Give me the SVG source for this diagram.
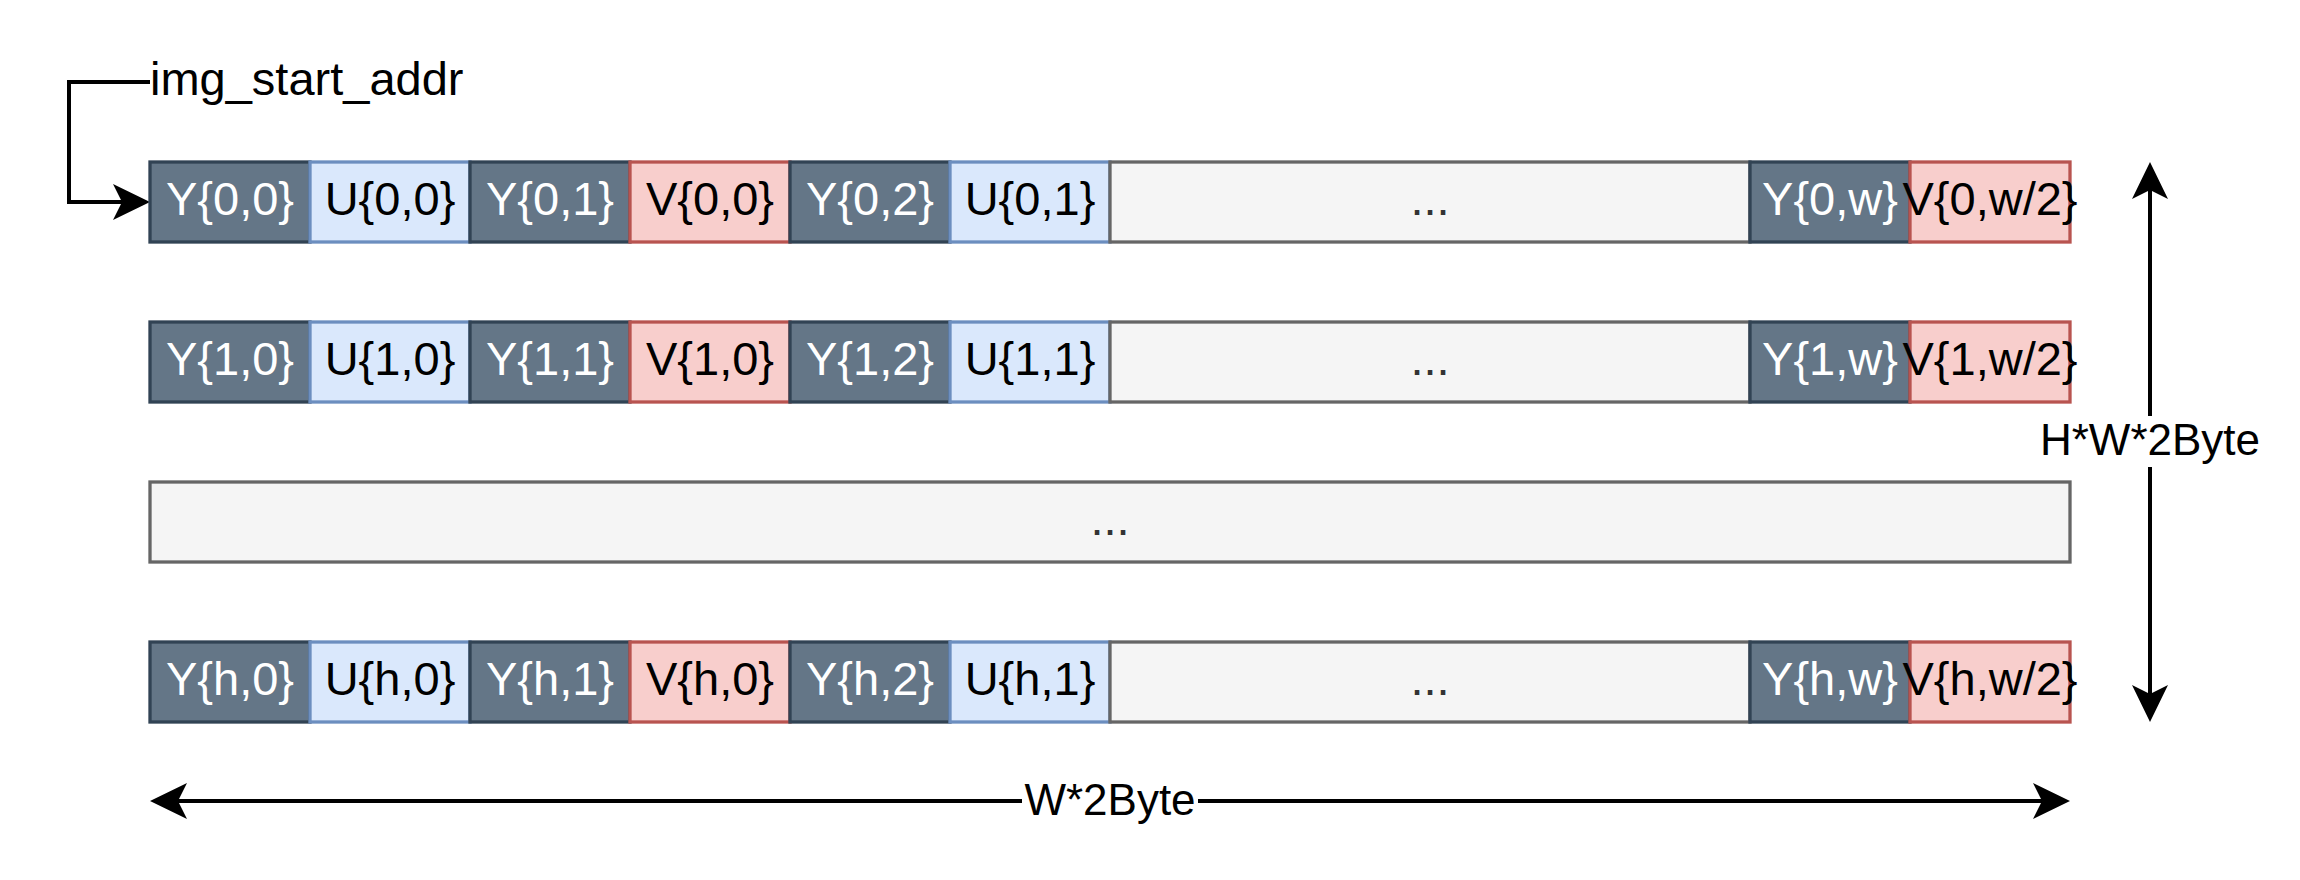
<svg xmlns="http://www.w3.org/2000/svg" width="2300" height="880" viewBox="0 0 2300 880">
<style>
text{font-family:"Liberation Sans",Arial,Helvetica,sans-serif;font-size:47px;text-anchor:middle}
.y rect{fill:#647687;stroke:#314354;stroke-width:3.3}
.y text{fill:#ffffff}
.u rect{fill:#dae8fc;stroke:#6c8ebf;stroke-width:3.3}
.u text{fill:#000000}
.v rect{fill:#f8cecc;stroke:#b85450;stroke-width:3.3}
.v text{fill:#000000}
.g rect{fill:#f5f5f5;stroke:#666666;stroke-width:3.3}
.g text{fill:#333333}
.edge{fill:none;stroke:#000;stroke-width:4}
.lbl{font-size:44px;fill:#000}
</style>
<defs>
<marker id="ah" viewBox="-10 -20 40 40" refX="0" refY="0" markerWidth="40" markerHeight="40" markerUnits="userSpaceOnUse" orient="auto-start-reverse">
<path d="M28,0 L-9,-18 L0,0 L-9,18 Z" fill="#000"/>
</marker>
</defs>
<rect width="2300" height="880" fill="#ffffff"/>

<g id="connectors">
<path class="edge" d="M150,82 H69 V202 H122" marker-end="url(#ah)"/>
<path class="edge" d="M2150,190 V694" marker-start="url(#ah)" marker-end="url(#ah)"/>
<rect x="2035" y="416" width="230" height="51" fill="#ffffff"/>
<text class="lbl" x="2150" y="455">H*W*2Byte</text>
<path class="edge" d="M178,801 H2042" marker-start="url(#ah)" marker-end="url(#ah)"/>
<rect x="1022" y="776" width="176" height="51" fill="#ffffff"/>
<text class="lbl" x="1110" y="815">W*2Byte</text>
</g>

<g id="img_start_addr"><text x="150" y="95" style="text-anchor:start">img_start_addr</text></g>

<!-- Row 0 -->
<g id="r0c0" class="y"><rect x="150" y="162" width="160" height="80"/><text x="230" y="215">Y{0,0}</text></g>
<g id="r0c1" class="u"><rect x="310" y="162" width="160" height="80"/><text x="390" y="215">U{0,0}</text></g>
<g id="r0c2" class="y"><rect x="470" y="162" width="160" height="80"/><text x="550" y="215">Y{0,1}</text></g>
<g id="r0c3" class="v"><rect x="630" y="162" width="160" height="80"/><text x="710" y="215">V{0,0}</text></g>
<g id="r0c4" class="y"><rect x="790" y="162" width="160" height="80"/><text x="870" y="215">Y{0,2}</text></g>
<g id="r0c5" class="u"><rect x="950" y="162" width="160" height="80"/><text x="1030" y="215">U{0,1}</text></g>
<g id="r0dots" class="g"><rect x="1110" y="162" width="640" height="80"/><text x="1430" y="215">...</text></g>
<g id="r0cw" class="y"><rect x="1750" y="162" width="160" height="80"/><text x="1830" y="215">Y{0,w}</text></g>
<g id="r0cv" class="v"><rect x="1910" y="162" width="160" height="80"/><text x="1990" y="215">V{0,w/2}</text></g>

<!-- Row 1 -->
<g id="r1c0" class="y"><rect x="150" y="322" width="160" height="80"/><text x="230" y="375">Y{1,0}</text></g>
<g id="r1c1" class="u"><rect x="310" y="322" width="160" height="80"/><text x="390" y="375">U{1,0}</text></g>
<g id="r1c2" class="y"><rect x="470" y="322" width="160" height="80"/><text x="550" y="375">Y{1,1}</text></g>
<g id="r1c3" class="v"><rect x="630" y="322" width="160" height="80"/><text x="710" y="375">V{1,0}</text></g>
<g id="r1c4" class="y"><rect x="790" y="322" width="160" height="80"/><text x="870" y="375">Y{1,2}</text></g>
<g id="r1c5" class="u"><rect x="950" y="322" width="160" height="80"/><text x="1030" y="375">U{1,1}</text></g>
<g id="r1dots" class="g"><rect x="1110" y="322" width="640" height="80"/><text x="1430" y="375">...</text></g>
<g id="r1cw" class="y"><rect x="1750" y="322" width="160" height="80"/><text x="1830" y="375">Y{1,w}</text></g>
<g id="r1cv" class="v"><rect x="1910" y="322" width="160" height="80"/><text x="1990" y="375">V{1,w/2}</text></g>

<!-- Row ... -->
<g id="rmid" class="g"><rect x="150" y="482" width="1920" height="80"/><text x="1110" y="535">...</text></g>

<!-- Row h -->
<g id="rhc0" class="y"><rect x="150" y="642" width="160" height="80"/><text x="230" y="695">Y{h,0}</text></g>
<g id="rhc1" class="u"><rect x="310" y="642" width="160" height="80"/><text x="390" y="695">U{h,0}</text></g>
<g id="rhc2" class="y"><rect x="470" y="642" width="160" height="80"/><text x="550" y="695">Y{h,1}</text></g>
<g id="rhc3" class="v"><rect x="630" y="642" width="160" height="80"/><text x="710" y="695">V{h,0}</text></g>
<g id="rhc4" class="y"><rect x="790" y="642" width="160" height="80"/><text x="870" y="695">Y{h,2}</text></g>
<g id="rhc5" class="u"><rect x="950" y="642" width="160" height="80"/><text x="1030" y="695">U{h,1}</text></g>
<g id="rhdots" class="g"><rect x="1110" y="642" width="640" height="80"/><text x="1430" y="695">...</text></g>
<g id="rhcw" class="y"><rect x="1750" y="642" width="160" height="80"/><text x="1830" y="695">Y{h,w}</text></g>
<g id="rhcv" class="v"><rect x="1910" y="642" width="160" height="80"/><text x="1990" y="695">V{h,w/2}</text></g>
</svg>
